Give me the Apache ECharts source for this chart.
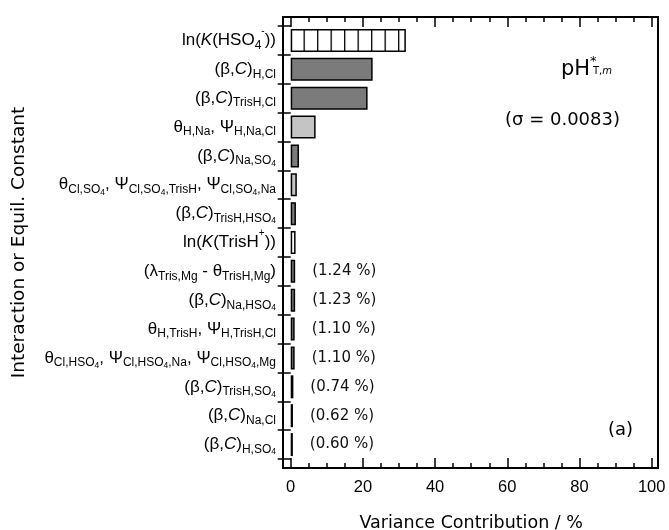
<!DOCTYPE html>
<html>
<head>
<meta charset="utf-8">
<script src="https://cdn.jsdelivr.net/npm/echarts@6/dist/echarts.min.js"></script>
<style>
  html, body { margin: 0; padding: 0; background: #fff; }
  #chart { width: 669px; height: 530px; }
</style>
</head>
<body>
<div id="chart"></div>
<script>
// category labels (rich text: m main, i italic, s subscript, ss sub-subscript, p superscript)
const categories = [
  '{m|ln(}{i|K}{m|(HSO}{s|4}{p|-}{m|))}',
  '{m|(β,}{i|C}{m|)}{s|H,Cl}',
  '{m|(β,}{i|C}{m|)}{s|TrisH,Cl}',
  '{m|θ}{s|H,Na}{m|, Ψ}{s|H,Na,Cl}',
  '{m|(β,}{i|C}{m|)}{s|Na,SO}{ss|4}',
  '{m|θ}{s|Cl,SO}{ss|4}{m|, Ψ}{s|Cl,SO}{ss|4}{s|,TrisH}{m|, Ψ}{s|Cl,SO}{ss|4}{s|,Na}',
  '{m|(β,}{i|C}{m|)}{s|TrisH,HSO}{ss|4}',
  '{m|ln(}{i|K}{m|(TrisH}{p|+}{m|))}',
  '{m|(λ}{s|Tris,Mg}{m| - θ}{s|TrisH,Mg}{m|)}',
  '{m|(β,}{i|C}{m|)}{s|Na,HSO}{ss|4}',
  '{m|θ}{s|H,TrisH}{m|, Ψ}{s|H,TrisH,Cl}',
  '{m|θ}{s|Cl,HSO}{ss|4}{m|, Ψ}{s|Cl,HSO}{ss|4}{s|,Na}{m|, Ψ}{s|Cl,HSO}{ss|4}{s|,Mg}',
  '{m|(β,}{i|C}{m|)}{s|TrisH,SO}{ss|4}',
  '{m|(β,}{i|C}{m|)}{s|Na,Cl}',
  '{m|(β,}{i|C}{m|)}{s|H,SO}{ss|4}'
]
// variance contribution, %
const contributions = [31.9, 22.7, 21.3, 6.9, 2.3, 1.7, 1.45, 1.35, 1.24, 1.23, 1.10, 1.10, 0.74, 0.62, 0.60]
// bar fill kind per category
const barKinds = ['hatch', 'dark', 'dark', 'light', 'dark', 'light', 'dark', 'open',
  'dark', 'dark', 'dark', 'dark', 'dark', 'dark', 'dark']
const labelledFrom = 8 // bars from here on get a "(x.xx %)" label
const xMin = 0
const xMax = 100
const xStep = 20

// layout
const frame = { left: 283, top: 17, width: 375, height: 451 }
const plotLeft = 290.7
const plotWidth = 361
const bandTop = 26
const bandHeight = 433

const SANS = '"Liberation Sans", Arial, sans-serif'
const VERD = '"DejaVu Sans", Verdana, sans-serif'

// vertical hatch for the first bar
const hatch = document.createElement('canvas')
hatch.width = 135
hatch.height = 8
const hctx = hatch.getContext('2d')
hctx.fillStyle = '#fff'
hctx.fillRect(0, 0, hatch.width, hatch.height)
hctx.fillStyle = '#000'
for (let i = 0; i < 10; i++) {
  hctx.fillRect(i * 13.5, 0, 1.3, hatch.height)
}

const fills = {
  hatch: { image: hatch, repeat: 'repeat', x: plotLeft - 0.65, y: 0 },
  dark: '#7b7b7b',
  light: '#c4c4c4',
  open: '#ffffff'
}

const tickLine = { color: '#000', width: 1.5 }

const chart = echarts.init(document.getElementById('chart'), null, { renderer: 'canvas' })
chart.setOption({
  animation: false,
  backgroundColor: '#fff',
  grid: [
    { left: frame.left, top: frame.top, width: frame.width, height: frame.height,
      show: true, borderColor: '#000', borderWidth: 2, backgroundColor: 'transparent', outerBoundsMode: 'none' },
    { left: plotLeft, top: frame.top, width: plotWidth, height: frame.height, outerBoundsMode: 'none' },
    { left: plotLeft, top: bandTop, width: plotWidth, height: bandHeight, outerBoundsMode: 'none' }
  ],
  xAxis: [
    { gridIndex: 0, type: 'value', show: false, min: 0, max: 1 },
    {
      gridIndex: 1, type: 'value', position: 'bottom',
      min: xMin, max: xMax, interval: xStep,
      axisLine: { show: false },
      axisTick: { show: true, inside: true, length: 10, lineStyle: tickLine },
      minorTick: { show: true, splitNumber: 4, length: 5, lineStyle: tickLine },
      splitLine: { show: false },
      axisLabel: { color: '#000', fontFamily: SANS, fontSize: 16.5, margin: 11 },
      name: 'Variance Contribution / %',
      nameLocation: 'middle',
      nameGap: 46,
      nameTextStyle: { color: '#000', fontFamily: VERD, fontSize: 17.5 }
    },
    {
      gridIndex: 1, type: 'value', position: 'top',
      min: xMin, max: xMax, interval: xStep,
      axisLine: { show: false },
      axisTick: { show: true, inside: true, length: 10, lineStyle: tickLine },
      minorTick: { show: true, splitNumber: 4, length: 5, lineStyle: tickLine },
      splitLine: { show: false },
      axisLabel: { show: false }
    },
    { gridIndex: 2, type: 'value', show: false, min: xMin, max: xMax }
  ],
  yAxis: [
    { gridIndex: 0, type: 'value', show: false },
    { gridIndex: 1, type: 'value', show: false },
    {
      gridIndex: 2,
      type: 'category',
      data: categories,
      inverse: true,
      offset: plotLeft - frame.left,
      axisLine: { show: false },
      axisTick: { show: true, length: 13, interval: 0, lineStyle: tickLine },
      splitLine: { show: false },
      axisLabel: {
        interval: 0,
        margin: 7,
        color: '#000',
        rich: {
          m: { fontFamily: SANS, fontSize: 17, lineHeight: 28, verticalAlign: 'middle', color: '#000' },
          i: { fontFamily: SANS, fontSize: 17, lineHeight: 28, verticalAlign: 'middle', fontStyle: 'italic', color: '#000' },
          s: { fontFamily: SANS, fontSize: 12, verticalAlign: 'bottom', padding: [0, 0, 3, 0], color: '#000' },
          ss: { fontFamily: SANS, fontSize: 8.5, verticalAlign: 'bottom', padding: [0, 0, 2, 0], color: '#000' },
          p: { fontFamily: SANS, fontSize: 10, lineHeight: 8, verticalAlign: 'top', color: '#000' }
        }
      },
      name: 'Interaction or Equil. Constant',
      nameLocation: 'middle',
      nameGap: 254,
      nameTextStyle: { color: '#000', fontFamily: VERD, fontSize: 18.5 }
    }
  ],
  series: [{
    type: 'bar',
    xAxisIndex: 3,
    yAxisIndex: 2,
    barWidth: 23,
    silent: true,
    itemStyle: { borderColor: '#000', borderWidth: 1.5 },
    label: {
      show: true,
      position: 'right',
      distance: 17,
      color: '#111',
      fontFamily: VERD,
      fontSize: 15,
      formatter: p => p.dataIndex >= labelledFrom ? '(' + p.value.toFixed(2) + ' %)' : ''
    },
    data: contributions.map((v, i) => ({ value: v, itemStyle: { color: fills[barKinds[i]] } }))
  }],
  graphic: [
    {
      type: 'text', x: 561, y: 55, silent: true,
      style: {
        text: '{a|pH}{b|*}',
        rich: {
          a: { fontFamily: VERD, fontSize: 21, lineHeight: 30, verticalAlign: 'middle', fill: '#000' },
          b: { fontFamily: VERD, fontSize: 13, lineHeight: 12, verticalAlign: 'top', fill: '#000' }
        }
      }
    },
    {
      type: 'text', x: 593, y: 66.5, silent: true,
      style: {
        text: '{t|T,}{it|m}',
        rich: {
          t: { fontFamily: VERD, fontSize: 10, fill: '#000' },
          it: { fontFamily: VERD, fontSize: 10, fontStyle: 'italic', fill: '#000' }
        }
      }
    },
    {
      type: 'text', x: 505, y: 111.5, silent: true,
      style: { text: '(σ = 0.0083)', font: '18px ' + VERD, fill: '#000' }
    },
    {
      type: 'text', x: 608, y: 421, silent: true,
      style: { text: '(a)', font: '18px ' + VERD, fill: '#000' }
    }
  ]
})
</script>
</body>
</html>
